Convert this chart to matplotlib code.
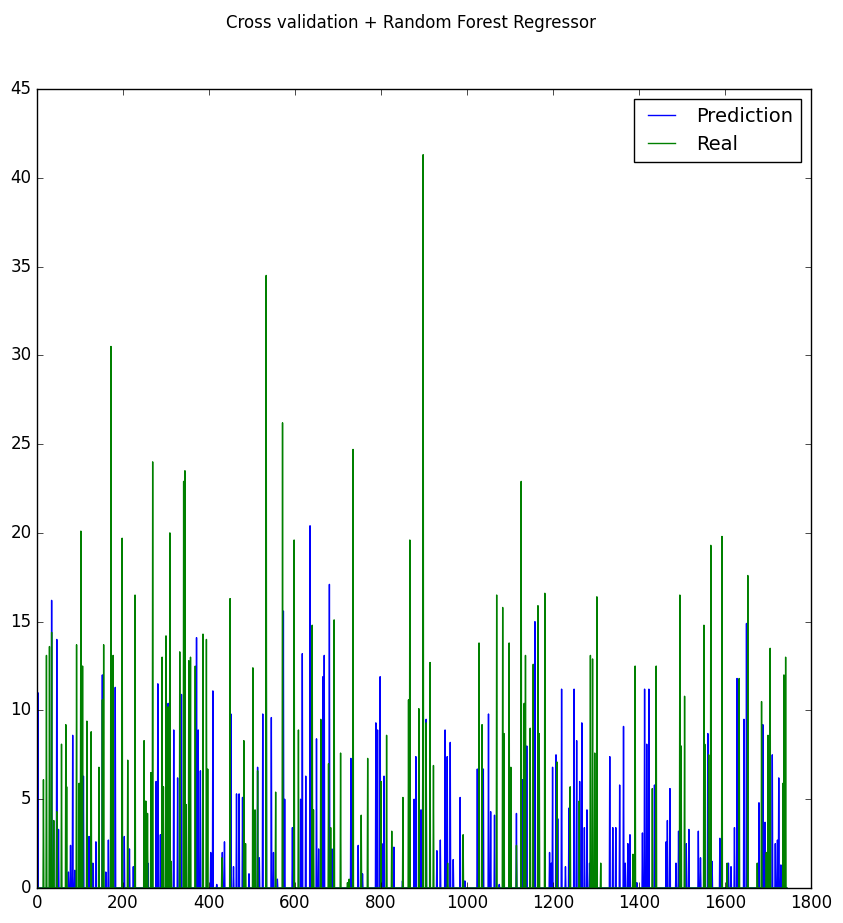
import numpy as np
import matplotlib
matplotlib.use("Agg")
import matplotlib.pyplot as plt

plt.style.use("classic")

title = "Cross validation + Random Forest Regressor"
series_labels = ["Prediction", "Real"]
n_samples = 1745

# Peaks (sample index, value); all other samples ~0
real_idx = [0, 15, 22, 29, 34, 39, 46, 57, 67, 69, 92, 98, 102, 106, 116, 126, 144, 152, 155,
            172, 177, 198, 211, 228, 249, 253, 257, 265, 269, 291, 294, 300, 305, 309, 312,
            332, 341, 344, 347, 353, 357, 368, 386, 394, 397, 430, 449, 481, 485, 502, 507,
            513, 533, 555, 571, 598, 608, 640, 643, 660, 678, 683, 691, 706, 722, 726, 735,
            754, 769, 800, 813, 825, 851, 864, 867, 888, 898, 905, 914, 922, 955, 991,
            1028, 1035, 1069, 1083, 1086, 1098, 1102, 1115, 1126, 1133, 1136, 1147, 1154,
            1165, 1168, 1181, 1209, 1240, 1261, 1287, 1292, 1297, 1302, 1311, 1386, 1391,
            1431, 1440, 1495, 1498, 1506, 1551, 1553, 1562, 1567, 1593, 1605, 1633, 1653,
            1675, 1685, 1696, 1700, 1705, 1735, 1737, 1741]
real_val = [3.8, 6.1, 13.1, 13.6, 14.4, 3.8, 4.3, 8.1, 9.2, 5.7, 13.7, 5.9, 20.1, 12.5, 9.4, 8.8, 6.8, 10.6, 13.7,
            30.5, 13.1, 19.7, 7.2, 16.5, 8.3, 4.9, 4.2, 6.5, 24.0, 13.0, 5.7, 14.2, 10.2, 20.0, 1.5,
            13.3, 22.9, 23.5, 4.7, 12.8, 13.0, 12.5, 14.3, 14.0, 6.7, 1.7, 16.3, 8.3, 2.5, 12.4, 4.4,
            6.6, 34.5, 5.4, 26.2, 19.6, 8.9, 14.8, 4.4, 9.5, 7.0, 3.4, 15.1, 7.6, 0.3, 0.5, 24.7,
            4.1, 7.3, 6.0, 8.6, 3.2, 5.1, 10.6, 19.6, 10.1, 41.3, 9.3, 12.7, 6.9, 1.4, 3.0,
            13.8, 9.2, 16.5, 15.8, 8.7, 13.8, 6.8, 2.4, 22.9, 10.4, 13.1, 9.0, 12.6,
            15.9, 8.7, 16.6, 7.1, 5.7, 4.9, 13.1, 12.9, 7.6, 16.4, 1.4, 1.9, 12.5,
            5.6, 12.5, 16.5, 8.0, 10.8, 14.8, 8.1, 7.5, 19.3, 19.8, 1.4, 11.8, 17.6,
            1.4, 10.5, 2.0, 8.6, 13.5, 5.9, 12.0, 13.0]

pred_idx = [2, 34, 46, 50, 73, 78, 83, 88, 102, 108, 121, 130, 137, 152, 160, 166, 172, 182, 203,
            215, 224, 258, 277, 281, 287, 305, 318, 327, 336, 371, 375, 380, 404, 409, 418,
            431, 436, 451, 457, 464, 470, 478, 493, 513, 517, 525, 533, 545, 550, 559, 573,
            576, 594, 613, 617, 625, 635, 650, 655, 665, 668, 680, 686, 730, 747, 757, 788,
            792, 798, 802, 807, 830, 850, 877, 881, 893, 897, 905, 930, 938, 949, 954, 961,
            968, 984, 995, 1024, 1038, 1050, 1055, 1064, 1075, 1102, 1115, 1129, 1139, 1158,
            1192, 1196, 1199, 1207, 1211, 1220, 1229, 1237, 1249, 1255, 1262, 1267, 1273,
            1279, 1285, 1332, 1339, 1346, 1355, 1364, 1368, 1374, 1379, 1395, 1408, 1413,
            1418, 1423, 1436, 1463, 1466, 1472, 1486, 1492, 1510, 1516, 1538, 1543, 1560,
            1570, 1588, 1608, 1614, 1622, 1628, 1644, 1650, 1679, 1688, 1693, 1710, 1717,
            1722, 1725, 1730]
pred_val = [11.0, 16.2, 14.0, 3.3, 0.9, 2.4, 8.6, 1.0, 18.3, 6.3, 2.9, 1.4, 2.6, 12.0, 0.9, 2.7, 13.0, 11.3, 2.9,
            2.2, 1.2, 1.4, 6.0, 11.5, 3.0, 10.4, 8.9, 6.2, 10.9, 14.1, 8.9, 6.6, 2.0, 11.1, 0.2,
            2.0, 2.6, 9.8, 1.2, 5.3, 5.3, 5.1, 0.8, 6.8, 1.7, 9.8, 16.9, 9.6, 2.0, 0.5, 15.6,
            5.0, 3.4, 5.0, 13.2, 6.3, 20.4, 8.4, 2.2, 11.9, 13.1, 17.1, 2.2, 7.3, 2.4, 0.8, 9.3,
            8.9, 11.9, 2.5, 6.3, 2.3, 0.4, 5.0, 7.4, 4.4, 6.6, 9.5, 2.1, 2.7, 8.9, 7.4, 8.2,
            1.6, 5.1, 0.4, 6.7, 6.7, 9.8, 4.3, 4.1, 0.2, 4.9, 4.2, 6.1, 8.0, 15.0,
            2.0, 1.4, 6.8, 7.5, 3.9, 11.2, 1.2, 4.5, 11.2, 8.3, 6.0, 9.3, 3.4,
            4.4, 1.4, 7.4, 3.4, 3.4, 5.8, 9.1, 1.4, 2.5, 3.0, 0.3, 3.1, 11.2,
            8.1, 11.2, 5.8, 2.6, 3.8, 5.6, 1.4, 3.2, 2.5, 3.3, 3.2, 1.7, 8.7,
            1.5, 2.8, 1.4, 1.2, 3.4, 11.8, 9.5, 14.9, 4.8, 9.2, 3.7, 7.5, 2.5,
            2.7, 6.2, 1.3]

prediction = np.zeros(n_samples)
prediction[pred_idx] = pred_val
real = np.zeros(n_samples)
real[real_idx] = real_val

fig = plt.figure(figsize=(8.43, 9.23), dpi=100, facecolor="white")
ax = fig.add_axes([37 / 843, 1 - 888 / 923, (811 - 37) / 843, (888 - 89) / 923])
ax.plot(prediction, color="b", linewidth=1.0, label=series_labels[0])
ax.plot(real, color="g", linewidth=1.0, label=series_labels[1])
ax.set_xlim(0, 1800)
ax.set_ylim(0, 45)
ax.tick_params(labelsize=12)
leg = ax.legend(loc="upper right", fontsize=14, fancybox=False,
                handlelength=2.0, handletextpad=0.8)
leg.get_frame().set_linewidth(1.0)
fig.suptitle(title, fontsize=12, x=0.488, y=0.985)
fig.savefig("out.png", dpi=100, facecolor="white")
